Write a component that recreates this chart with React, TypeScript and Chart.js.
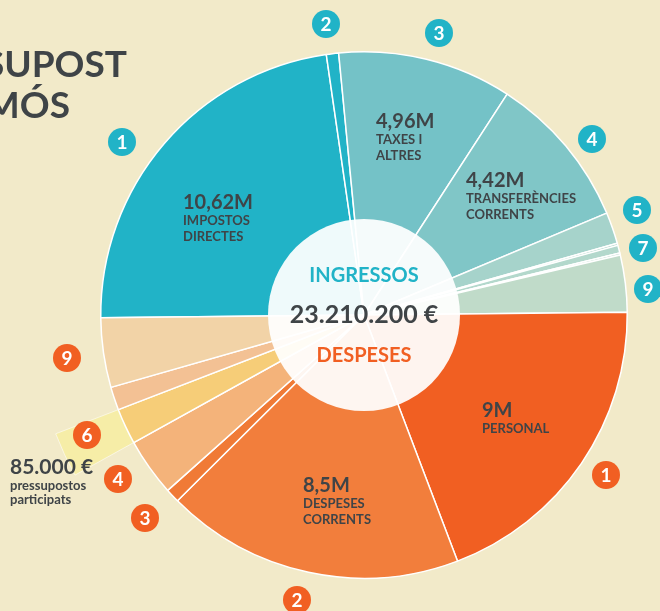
import React, { useEffect, useRef } from 'react';
import { Chart, registerables } from 'chart.js';

Chart.register(...registerables);

const BG = '#F2EAC9';
const DARK = '#3F4447';
const TEAL = '#21B3C7';
const ORANGE = '#F15F22';
const FONT = 'Lato, "Open Sans", sans-serif';

// Income chapters (top half, clockwise from the left)
const incomeChapters = ['1', '2', '3', '4', '5', '6', '7', '8', '9'];
const incomeValues = [10.62, 0.35, 4.96, 4.42, 0.9, 0.06, 0.22, 0.06, 1.62];
const incomeColors = ['#21B3C7', '#21B3C7', '#74C2C7', '#80C6C7', '#A6D3CB', '#B3D8CC', '#B3D8CC', '#BAD9CB', '#C0DBC9'];

// Expense chapters (bottom half, clockwise from the right)
const expenseChapters = ['1', '2', '3', '4', '6', '8', '9'];
const expenseValues = [9, 8.5, 0.4, 1.65, 1.02, 0.66, 1.98];
const expenseColors = ['#F15F22', '#F27E3C', '#F07A36', '#F4B37A', '#F6CD78', '#F3C194', '#F2D3A7'];

const totalText = '23.210.200 €';
const highlightChapter = '6';
const highlightAmount = '85.000 €';
const highlightLines = ['pressupostos', 'participats'];

const sliceTexts = [
  { value: '10,62M', lines: ['IMPOSTOS', 'DIRECTES'], x: 183, y: 209 },
  { value: '4,96M', lines: ['TAXES I', 'ALTRES'], x: 376, y: 128 },
  { value: '4,42M', lines: ['TRANSFERÈNCIES', 'CORRENTS'], x: 466, y: 187 },
  { value: '9M', lines: ['PERSONAL'], x: 482, y: 417 },
  { value: '8,5M', lines: ['DESPESES', 'CORRENTS'], x: 303, y: 492 },
];

const incomeBadges = [
  { n: '1', x: 122, y: 142 },
  { n: '2', x: 326, y: 24 },
  { n: '3', x: 439, y: 33 },
  { n: '4', x: 592, y: 139 },
  { n: '5', x: 637, y: 210 },
  { n: '7', x: 643, y: 248 },
  { n: '9', x: 648, y: 289 },
];
const expenseBadges = [
  { n: '1', x: 606, y: 475 },
  { n: '2', x: 297, y: 600 },
  { n: '3', x: 145, y: 518 },
  { n: '4', x: 118, y: 479 },
  { n: '6', x: 87, y: 435 },
  { n: '9', x: 67, y: 358 },
];

const overlayPlugin = {
  id: 'overlay',
  beforeDatasetsDraw(chart: any) {
    const ctx = chart.ctx;
    const meta = chart.getDatasetMeta(0);
    const idx = incomeValues.length + expenseChapters.indexOf(highlightChapter);
    const arc: any = meta.data[idx];
    if (!arc) return;
    const { x, y, startAngle, endAngle, outerRadius } = arc.getProps(['x', 'y', 'startAngle', 'endAngle', 'outerRadius'], true);
    ctx.save();
    ctx.beginPath();
    ctx.moveTo(x, y);
    ctx.arc(x, y, outerRadius * 1.255, startAngle, endAngle);
    ctx.closePath();
    ctx.fillStyle = '#F6EDA7';
    ctx.fill();
    ctx.strokeStyle = 'rgba(255,255,255,0.55)';
    ctx.lineWidth = 1;
    ctx.stroke();
    ctx.restore();
  },
  afterDatasetsDraw(chart: any) {
    const ctx = chart.ctx;
    const meta = chart.getDatasetMeta(0);
    const arc: any = meta.data[0];
    const cx = arc.x;
    const cy = arc.y;
    ctx.save();
    // center disc
    ctx.beginPath();
    ctx.arc(cx, cy, 96, 0, Math.PI * 2);
    ctx.fillStyle = 'rgba(255,255,255,0.93)';
    ctx.fill();

    ctx.textAlign = 'center';
    ctx.textBaseline = 'alphabetic';
    ctx.fillStyle = TEAL;
    ctx.font = `700 20px ${FONT}`;
    ctx.fillText('INGRESSOS', cx, 282);
    ctx.fillStyle = DARK;
    ctx.font = `700 25px ${FONT}`;
    ctx.fillText(totalText, cx, 323);
    ctx.fillStyle = ORANGE;
    ctx.font = `700 20px ${FONT}`;
    ctx.fillText('DESPESES', cx, 362);

    // slice texts
    ctx.textAlign = 'left';
    ctx.fillStyle = DARK;
    sliceTexts.forEach((t) => {
      ctx.font = `700 20px ${FONT}`;
      ctx.fillText(t.value, t.x, t.y);
      ctx.font = `700 13px ${FONT}`;
      t.lines.forEach((l, i) => ctx.fillText(l, t.x, t.y + 16 * (i + 1)));
    });

    // highlight note
    ctx.font = `700 21px ${FONT}`;
    ctx.fillText(highlightAmount, 10, 474);
    ctx.font = `700 13px ${FONT}`;
    highlightLines.forEach((l, i) => ctx.fillText(l, 10, 490 + 14 * i));

    // title fragment
    ctx.textAlign = 'right';
    ctx.font = `700 37px ${FONT}`;
    ctx.fillText('SUPOST', 127, 77);
    ctx.fillText('MÓS', 70, 118);

    // badges
    const drawBadge = (b: any, color: string) => {
      ctx.beginPath();
      ctx.arc(b.x, b.y, 14, 0, Math.PI * 2);
      ctx.fillStyle = color;
      ctx.fill();
      ctx.fillStyle = '#FFFFFF';
      ctx.font = `700 19px ${FONT}`;
      ctx.textAlign = 'center';
      ctx.textBaseline = 'middle';
      ctx.fillText(b.n, b.x, b.y + 1);
    };
    incomeBadges.forEach((b) => drawBadge(b, TEAL));
    expenseBadges.forEach((b) => drawBadge(b, ORANGE));
    ctx.restore();
  },
};

export default function App() {
  const canvasRef = useRef<HTMLCanvasElement | null>(null);

  useEffect(() => {
    if (!canvasRef.current) return;
    const labels = [
      ...incomeChapters.map((c) => `Ingressos ${c}`),
      ...expenseChapters.map((c) => `Despeses ${c}`),
    ];
    const chart = new Chart(canvasRef.current, {
      type: 'pie',
      data: {
        labels,
        datasets: [
          {
            data: [...incomeValues, ...expenseValues],
            backgroundColor: [...incomeColors, ...expenseColors],
            borderColor: '#FFFFFF',
            borderWidth: 1.5,
          },
        ],
      },
      options: {
        responsive: false,
        animation: false,
        rotation: -90.6,
        events: [],
        layout: { padding: { left: 100, right: 32, top: 51, bottom: 32 } },
        plugins: {
          legend: { display: false },
          tooltip: { enabled: false },
        },
      },
      plugins: [overlayPlugin],
    });
    return () => chart.destroy();
  }, []);

  return (
    <div style={{ position: 'fixed', left: 0, top: 0, width: 660, height: 611, background: BG, overflow: 'hidden' }}>
      <canvas ref={canvasRef} width={660} height={611} style={{ display: 'block' }} />
    </div>
  );
}
